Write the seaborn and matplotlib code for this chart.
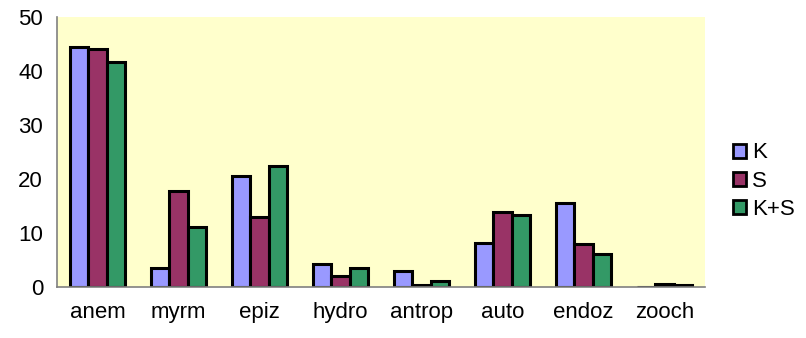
import pandas as pd
import seaborn as sns
import matplotlib.pyplot as plt
from matplotlib.patches import Patch

categories = ['anem', 'myrm', 'epiz', 'hydro', 'antrop', 'auto', 'endoz', 'zooch']
series = ['K', 'S', 'K+S']
k_vals = [44.5, 3.5, 20.6, 4.2, 2.9, 8.2, 15.6, 0.0]
s_vals = [44.0, 17.8, 12.9, 2.0, 0.4, 13.9, 7.9, 0.6]
ks_vals = [41.6, 11.1, 22.5, 3.6, 1.1, 13.4, 6.1, 0.35]
colors = ['#9999FF', '#993366', '#339966']

df = pd.DataFrame({
    'cat': categories * 3,
    'series': ['K'] * 8 + ['S'] * 8 + ['K+S'] * 8,
    'value': k_vals + s_vals + ks_vals,
})

sns.set_style('white')
plt.rcParams['font.family'] = ['Liberation Sans', 'DejaVu Sans']
plt.rcParams['text.color'] = 'black'
plt.rcParams['xtick.color'] = 'black'
plt.rcParams['ytick.color'] = 'black'

fig = plt.figure(figsize=(8.06, 3.38), dpi=100)
ax = fig.add_axes([57 / 806, 51 / 338, 648 / 806, 270 / 338])
ax.set_facecolor('#FFFFCC')

sns.barplot(data=df, x='cat', y='value', hue='series', hue_order=series,
            palette=colors, saturation=1, width=0.67, edgecolor='black',
            linewidth=2.2, ax=ax, legend=False)

ax.set_ylim(0, 50)
ax.set_xlim(-0.5, 7.5)
ax.set_yticks([0, 10, 20, 30, 40, 50])
ax.set_xticks([i - 0.5 for i in range(9)], minor=False)
ax.set_xticklabels([])
ax.set_xticks(range(8), minor=True)
ax.set_xticklabels(categories, minor=True)
ax.tick_params(axis='x', which='major', length=6, width=1, color='#404040', direction='out')
ax.tick_params(axis='x', which='minor', length=0, pad=11, labelsize=16)
ax.tick_params(axis='y', length=6, width=1, color='#404040', direction='out', labelsize=16, pad=4)
ax.set_xlabel('')
ax.set_ylabel('')

for side in ['top', 'right']:
    ax.spines[side].set_visible(False)
for side in ['left', 'bottom']:
    ax.spines[side].set_color('#808080')
    ax.spines[side].set_linewidth(1.2)

handles = [Patch(facecolor=c, edgecolor='black', linewidth=2, label=s) for c, s in zip(colors, series)]
fig.legend(handles=handles, loc='center left', bbox_to_anchor=(733 / 806, 1 - 181 / 338),
           frameon=False, fontsize=16, handlelength=0.6, handleheight=0.6,
           handletextpad=0.25, labelspacing=0.32, borderaxespad=0, borderpad=0)

fig.savefig('out.png', dpi=100)
